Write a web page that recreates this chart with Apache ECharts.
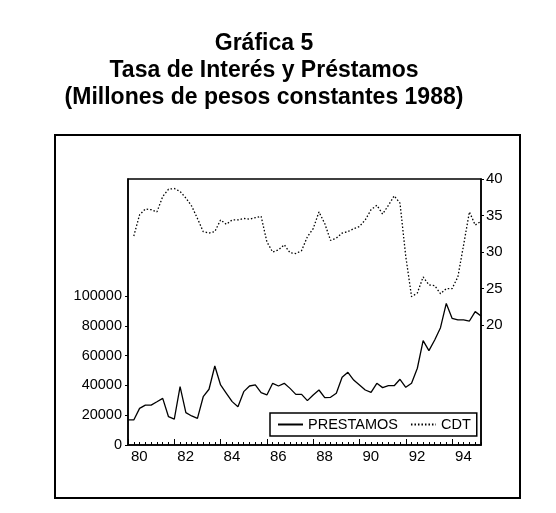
<!DOCTYPE html>
<html><head><meta charset="utf-8">
<script src="https://cdn.jsdelivr.net/npm/echarts@6/dist/echarts.min.js"></script>
<style>html,body{margin:0;padding:0;background:#fff}#c{width:556px;height:513px}</style>
</head><body><div id="c"></div>
<script>
const titleLines = ['Gráfica 5', 'Tasa de Interés y Préstamos', '(Millones de pesos constantes 1988)'];
const years = [1980,1981,1982,1983,1984,1985,1986,1987,1988,1989,1990,1991,1992,1993,1994,1995];
const quarterNames = ['Q1','Q2','Q3','Q4'];
const categories = [];
years.forEach(y => quarterNames.forEach(q => { if (categories.length < 62) categories.push(y + q); }));
const prestamos = [16800,16800,24600,26800,26800,29000,31300,19000,17400,39100,
  21700,19500,17900,32400,37400,53000,40300,34700,29100,25700,
  35800,39600,40300,35100,33600,41400,39600,41400,38000,34000,
  34000,29800,33600,36900,31800,32000,34700,45400,48800,43600,
  40300,36900,35300,41400,38500,39800,39800,44100,38700,41400,
  51500,70000,63300,70500,78700,95000,85000,83900,83900,83200,
  89500,86600];
const cdt = [null,32.2,35.1,35.9,35.8,35.5,37.6,38.6,38.7,38.3,
  37.4,36.3,34.6,32.8,32.6,32.8,34.4,33.8,34.4,34.4,
  34.6,34.5,34.7,34.9,31.4,30.0,30.3,31.0,29.9,29.8,
  30.2,32.1,33.2,35.5,33.9,31.6,31.9,32.6,32.8,33.2,
  33.5,34.4,35.8,36.4,35.2,36.4,37.7,36.7,29.4,23.9,
  24.4,26.6,25.5,25.4,24.3,25.0,25.0,26.6,31.0,35.5,
  33.7,34.2];
const leftTicks = [0,20000,40000,60000,80000,100000];
const rightTicks = [20,25,30,35,40];

const chart = echarts.init(document.getElementById('c'), null, {renderer:'canvas'});
const FONT = '"Liberation Sans", Arial, sans-serif';
chart.setOption({
  backgroundColor:'#fff',
  animation:false,
  graphic:[
    {type:'rect', shape:{x:55,y:135,width:465,height:363}, style:{fill:'none', stroke:'#000', lineWidth:2}},
    {type:'text', x:264, y:55, style:{text:titleLines[0], textAlign:'center', textVerticalAlign:'bottom', font:'bold 23px '+FONT, fill:'#000'}},
    {type:'text', x:264, y:82, style:{text:titleLines[1], textAlign:'center', textVerticalAlign:'bottom', font:'bold 23px '+FONT, fill:'#000'}},
    {type:'text', x:264, y:109, style:{text:titleLines[2], textAlign:'center', textVerticalAlign:'bottom', font:'bold 23px '+FONT, fill:'#000'}}
  ],
  grid:{left:128, right:75, top:179, bottom:68, show:true, borderColor:'#000', borderWidth:1.5, backgroundColor:'transparent'},
  legend:{
    left:270, top:413, orient:'horizontal',
    data:['PRESTAMOS','CDT'],
    itemWidth:25, itemHeight:14, itemGap:12,
    padding:[4,6,4,7],
    borderColor:'#000', borderWidth:1.5, backgroundColor:'#fff',
    itemStyle:{opacity:0},
    textStyle:{fontFamily:FONT, fontSize:14.5, color:'#000'}
  },
  xAxis:[{
    type:'category', data:categories, boundaryGap:false,
    axisLine:{lineStyle:{color:'#000', width:1.5}},
    axisTick:{inside:true, interval:0, length:3, lineStyle:{color:'#000'}},
    axisLabel:{interval:(i)=>i%8===0, formatter:(v)=>v.slice(2,4), align:'left', padding:[0,0,0,3], margin:4,
      fontFamily:FONT, fontSize:15, color:'#000'},
    splitLine:{show:false}
  },{
    type:'category', data:categories, boundaryGap:false, position:'bottom',
    axisLine:{show:false},
    axisTick:{inside:true, interval:(i)=>i%8===0, length:6, lineStyle:{color:'#000'}},
    axisLabel:{show:false}, splitLine:{show:false}
  }],
  yAxis:[{
    type:'value', min:0, max:178500, position:'left',
    axisLine:{show:true, lineStyle:{color:'#000', width:1.5}},
    axisTick:{show:true, customValues:leftTicks, length:3, lineStyle:{color:'#000'}},
    axisLabel:{customValues:leftTicks, formatter:(v)=>String(v), margin:6, fontFamily:FONT, fontSize:14.5, color:'#000'},
    splitLine:{show:false}
  },{
    type:'value', min:3.6, max:40, position:'right',
    axisLine:{show:true, lineStyle:{color:'#000', width:1.5}},
    axisTick:{show:true, customValues:rightTicks, length:3, lineStyle:{color:'#000'}},
    axisLabel:{customValues:rightTicks, formatter:(v)=>String(v), margin:5, fontFamily:FONT, fontSize:15, color:'#000'},
    splitLine:{show:false}
  }],
  series:[{
    name:'PRESTAMOS', type:'line', data:prestamos, xAxisIndex:0, yAxisIndex:0,
    symbol:'none', lineStyle:{color:'#000', width:1.3}, itemStyle:{color:'#000'}
  },{
    name:'CDT', type:'line', data:cdt, xAxisIndex:0, yAxisIndex:1,
    symbol:'none', connectNulls:false, lineStyle:{color:'#000', width:1.3, type:[1.5,2]}, itemStyle:{color:'#000'}
  }]
});
</script></body></html>
